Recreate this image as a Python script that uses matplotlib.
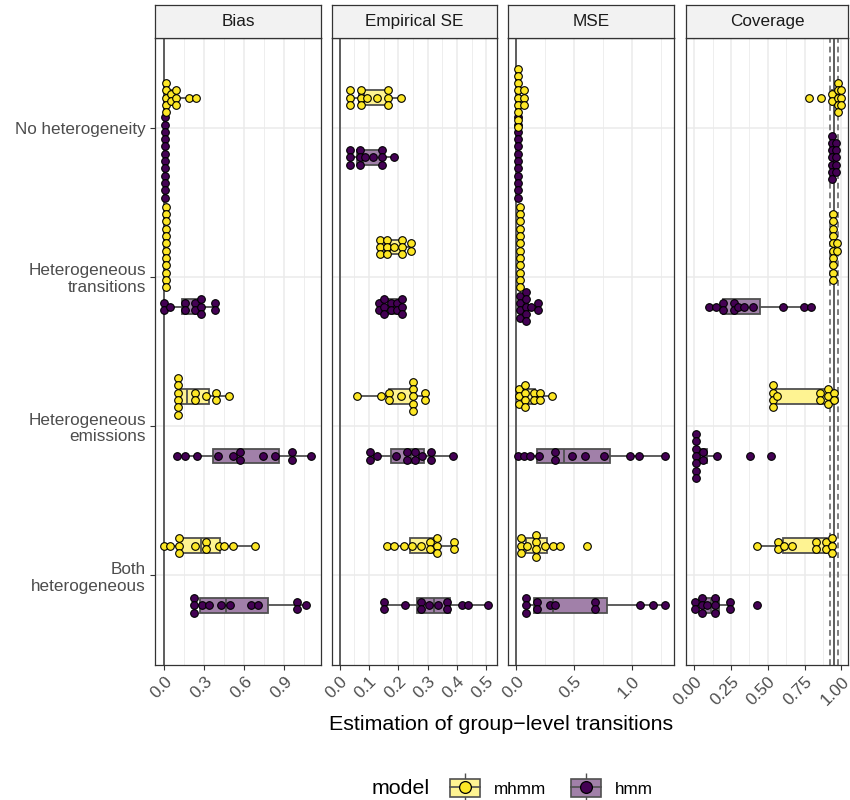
import numpy as np
import matplotlib
matplotlib.use("Agg")
import matplotlib.pyplot as plt
from matplotlib.patches import Patch
from matplotlib.lines import Line2D
from matplotlib.legend_handler import HandlerTuple

plt.rcParams['font.family'] = ['Liberation Sans', 'DejaVu Sans']

scenarios = ["No heterogeneity", "Heterogeneous\ntransitions",
             "Heterogeneous\nemissions", "Both\nheterogeneous"]
models = ["hmm", "mhmm"]          # hmm drawn first, mhmm on top
dot_color = {"mhmm": "#FDE725", "hmm": "#440154"}
box_color = {"mhmm": "#FEF392", "hmm": "#A180A9"}
measures = ["Bias", "Empirical SE", "MSE", "Coverage"]

# 12 replicates per scenario
bias_mhmm = [
    [0.015, 0.015, 0.015, 0.015, 0.015, 0.05, 0.05, 0.088, 0.088, 0.088, 0.185, 0.238],
    [0.015, 0.015, 0.015, 0.015, 0.015, 0.015, 0.015, 0.015, 0.015, 0.015, 0.015, 0.015],
    [0.103, 0.103, 0.103, 0.103, 0.103, 0.103, 0.233, 0.233, 0.315, 0.388, 0.388, 0.483],
    [0.0, 0.045, 0.108, 0.108, 0.108, 0.233, 0.315, 0.315, 0.408, 0.45, 0.515, 0.678],
]
bias_hmm = [
    [0.005, 0.005, 0.005, 0.005, 0.005, 0.005, 0.005, 0.005, 0.005, 0.005, 0.005, 0.005],
    [0.0, 0.0, 0.045, 0.158, 0.158, 0.233, 0.233, 0.275, 0.275, 0.275, 0.383, 0.383],
    [0.095, 0.153, 0.245, 0.403, 0.513, 0.57, 0.57, 0.738, 0.828, 0.958, 0.958, 1.103],
    [0.22, 0.22, 0.22, 0.283, 0.333, 0.425, 0.495, 0.653, 0.703, 0.995, 0.995, 1.063],
]
ese_mhmm = [
    [0.036, 0.036, 0.036, 0.074, 0.074, 0.074, 0.093, 0.127, 0.164, 0.164, 0.164, 0.209],
    [0.138, 0.138, 0.138, 0.161, 0.161, 0.161, 0.184, 0.212, 0.212, 0.212, 0.243, 0.243],
    [0.059, 0.141, 0.17, 0.17, 0.21, 0.249, 0.249, 0.249, 0.249, 0.249, 0.291, 0.291],
    [0.163, 0.184, 0.22, 0.246, 0.277, 0.308, 0.308, 0.331, 0.331, 0.331, 0.39, 0.39],
]
ese_hmm = [
    [0.034, 0.034, 0.034, 0.07, 0.07, 0.07, 0.087, 0.113, 0.146, 0.146, 0.146, 0.184],
    [0.133, 0.133, 0.153, 0.153, 0.153, 0.175, 0.175, 0.195, 0.195, 0.214, 0.214, 0.214],
    [0.102, 0.102, 0.127, 0.193, 0.229, 0.229, 0.257, 0.257, 0.28, 0.312, 0.312, 0.386],
    [0.153, 0.153, 0.222, 0.277, 0.277, 0.306, 0.335, 0.365, 0.365, 0.416, 0.439, 0.505],
]
mse_mhmm = [
    [0.014, 0.014, 0.014, 0.014, 0.014, 0.014, 0.014, 0.014, 0.014, 0.066, 0.066, 0.066],
    [0.035, 0.035, 0.035, 0.035, 0.035, 0.035, 0.035, 0.035, 0.035, 0.035, 0.035, 0.035],
    [0.023, 0.023, 0.023, 0.078, 0.078, 0.078, 0.078, 0.15, 0.15, 0.202, 0.202, 0.31],
    [0.043, 0.043, 0.043, 0.095, 0.168, 0.168, 0.168, 0.168, 0.246, 0.318, 0.382, 0.613],
]
mse_hmm = [
    [0.012, 0.012, 0.012, 0.012, 0.012, 0.012, 0.012, 0.012, 0.012, 0.012, 0.012, 0.012],
    [0.029, 0.029, 0.029, 0.029, 0.087, 0.087, 0.087, 0.087, 0.087, 0.124, 0.188, 0.188],
    [0.014, 0.064, 0.116, 0.197, 0.338, 0.338, 0.486, 0.593, 0.76, 0.983, 1.064, 1.286],
    [0.087, 0.087, 0.087, 0.179, 0.179, 0.289, 0.338, 0.685, 0.685, 1.075, 1.185, 1.286],
]
cov_mhmm = [
    [0.783, 0.86, 0.937, 0.937, 0.977, 0.977, 0.977, 0.977, 0.977, 1.0, 1.0, 1.0],
    [0.943, 0.943, 0.943, 0.943, 0.943, 0.943, 0.943, 0.943, 0.943, 0.943, 0.968, 0.968],
    [0.534, 0.534, 0.534, 0.534, 0.563, 0.855, 0.855, 0.912, 0.912, 0.912, 0.95, 0.95],
    [0.425, 0.572, 0.572, 0.613, 0.663, 0.826, 0.826, 0.894, 0.894, 0.939, 0.939, 0.939],
]
cov_hmm = [
    [0.937, 0.937, 0.937, 0.937, 0.937, 0.937, 0.937, 0.962, 0.962, 0.962, 0.962, 0.962],
    [0.097, 0.147, 0.195, 0.195, 0.267, 0.267, 0.296, 0.339, 0.398, 0.602, 0.749, 0.792],
    [0.011, 0.011, 0.011, 0.011, 0.011, 0.011, 0.011, 0.059, 0.059, 0.158, 0.38, 0.52],
    [0.007, 0.007, 0.052, 0.052, 0.052, 0.086, 0.143, 0.143, 0.143, 0.244, 0.244, 0.425],
]

x_limits = [(-0.07, 1.175), (-0.026, 0.537), (-0.073, 1.367), (-0.056, 1.045)]
x_major = [[0.0, 0.3, 0.6, 0.9], [0.0, 0.1, 0.2, 0.3, 0.4, 0.5],
           [0.0, 0.5, 1.0], [0.0, 0.25, 0.5, 0.75, 1.0]]
x_minor = [[0.15, 0.45, 0.75, 1.05], [0.05, 0.15, 0.25, 0.35, 0.45],
           [0.25, 0.75, 1.25], [0.125, 0.375, 0.625, 0.875]]
x_labels = [["0.0", "0.3", "0.6", "0.9"], ["0.0", "0.1", "0.2", "0.3", "0.4", "0.5"],
            ["0.0", "0.5", "1.0"], ["0.00", "0.25", "0.50", "0.75", "1.00"]]
ref_line = [0.0, 0.0, 0.0, 0.95]
cov_bounds = [0.923, 0.977]

data = {
    "Bias": {"mhmm": bias_mhmm, "hmm": bias_hmm},
    "Empirical SE": {"mhmm": ese_mhmm, "hmm": ese_hmm},
    "MSE": {"mhmm": mse_mhmm, "hmm": mse_hmm},
    "Coverage": {"mhmm": cov_mhmm, "hmm": cov_hmm},
}
dodge = {"mhmm": -0.2, "hmm": 0.2}

W, H = 850, 800
fig = plt.figure(figsize=(W / 100, H / 100), dpi=100)
lefts = [155, 332, 508, 686]
rights = [321, 497, 674, 848]
top, bottom, strip_h = 38, 665, 33

grey_txt = "#4D4D4D"
edge = "#333333"
box_edge = "#505050"
ppu = (bottom - top) / 4.2        # pixels per category unit
step = 7.3 / ppu                  # dot diameter in y units

for j, name in enumerate(measures):
    l, r = lefts[j], rights[j]
    ax = fig.add_axes([l / W, 1 - bottom / H, (r - l) / W, (bottom - top) / H])
    ax.set_xlim(x_limits[j])
    ax.set_ylim(4.6, 0.4)
    ax.set_xticks(x_major[j])
    ax.set_xticklabels(x_labels[j], rotation=45, ha="right", va="top",
                       rotation_mode="anchor", fontsize=12.3, color=grey_txt)
    ax.set_xticks(x_minor[j], minor=True)
    ax.set_yticks(range(1, 5))
    if j == 0:
        ax.set_yticklabels(scenarios, fontsize=12.3, color=grey_txt, linespacing=1.15)
        ax.tick_params(axis="y", length=3.5, width=0.8, color=edge, pad=3)
    else:
        ax.set_yticklabels([])
        ax.tick_params(axis="y", length=0)
    ax.tick_params(axis="x", which="major", length=3.5, width=0.8, color=edge, pad=3)
    ax.tick_params(axis="x", which="minor", length=0)
    ax.grid(which="major", color="#EBEBEB", lw=1.1)
    ax.grid(which="minor", axis="x", color="#EBEBEB", lw=0.6)
    ax.set_axisbelow(True)
    for s in ax.spines.values():
        s.set_color(edge)
        s.set_linewidth(0.9)

    ax.axvline(ref_line[j], color="#5E5E5E", lw=1.4, zorder=1)
    if name == "Coverage":
        for b in cov_bounds:
            ax.axvline(b, color="#7F7F7F", lw=1.4, ls=(0, (3, 2)), zorder=1)

    # boxes
    for m in models:
        groups = data[name][m]
        pos = [i + 1 + dodge[m] for i in range(4)]
        ax.boxplot(groups, positions=pos, widths=0.1, orientation="horizontal",
                   showfliers=False, showcaps=False, patch_artist=True,
                   manage_ticks=False, whis=1.5,
                   boxprops=dict(facecolor=box_color[m], edgecolor=box_edge, lw=1.3),
                   medianprops=dict(color=box_edge, lw=1.3),
                   whiskerprops=dict(color=box_edge, lw=1.3), zorder=2)
    # stacked dots
    for m in models:
        groups = data[name][m]
        for i, vals in enumerate(groups):
            xs, counts = np.unique(vals, return_counts=True)
            for x, n in zip(xs, counts):
                ys = i + 1 + dodge[m] + (np.arange(n) - (n - 1) / 2) * step
                ax.plot(np.full(n, x), ys, "o", ms=5.5, mfc=dot_color[m],
                        mec="black", mew=0.8, zorder=3, clip_on=False)

    sax = fig.add_axes([l / W, 1 - top / H, (r - l) / W, strip_h / H])
    sax.set_facecolor("#F2F2F2")
    sax.set_xticks([])
    sax.set_yticks([])
    for s in sax.spines.values():
        s.set_color(edge)
        s.set_linewidth(0.9)
    sax.text(0.5, 0.5, name, ha="center", va="center", fontsize=12.3, color="#1A1A1A")

fig.text(501.5 / W, 1 - 725 / H, "Estimation of group\u2212level transitions",
         ha="center", va="center", fontsize=15.4)

# legend
fig.text(372 / W, 1 - 788 / H, "model", ha="left", va="center", fontsize=15.4)
handles = []
for m in ["mhmm", "hmm"]:
    whisk = Line2D([], [], marker="|", ms=20, mew=1.0, color=box_edge, ls="none")
    rect = Patch(facecolor=box_color[m], edgecolor=box_edge, lw=1.2)
    med = Line2D([], [], color=box_edge, lw=1.2)
    dot = Line2D([], [], marker="o", ms=8.5, mfc=dot_color[m], mec="black", mew=0.9, ls="none")
    handles.append((whisk, rect, med, dot))
fig.legend(handles, ["mhmm", "hmm"], handler_map={tuple: HandlerTuple(ndivide=1)},
           loc="center left", bbox_to_anchor=(450 / W, 1 - 788 / H), ncol=2,
           frameon=False, fontsize=12.3, handlelength=1.75, handleheight=1.2,
           handletextpad=0.8, columnspacing=1.5, borderpad=0, borderaxespad=0,
           numpoints=1)

fig.savefig("out.png", dpi=100)
